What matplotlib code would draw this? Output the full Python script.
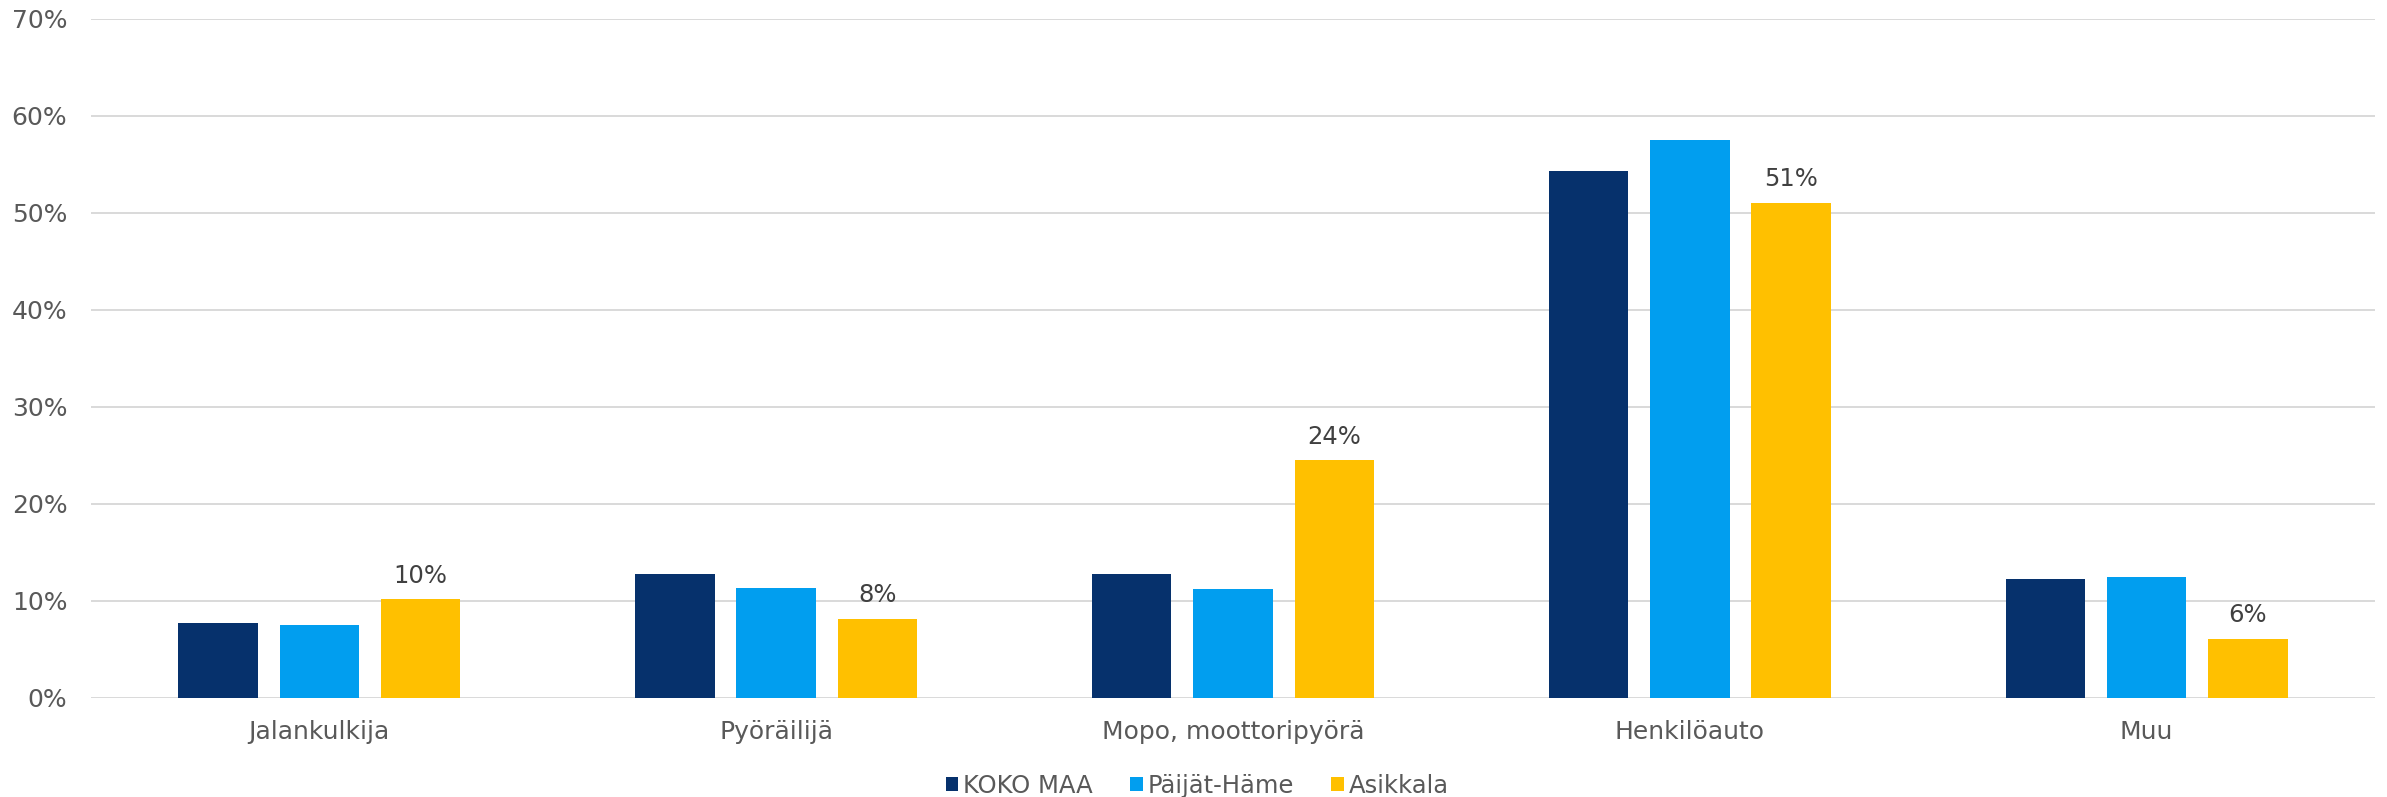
import matplotlib
matplotlib.use("Agg")
import matplotlib.pyplot as plt
import numpy as np
from matplotlib.patches import Patch

categories = ["Jalankulkija", "Pyöräilijä", "Mopo, moottoripyörä", "Henkilöauto", "Muu"]
series_names = ["KOKO MAA", "Päijät-Häme", "Asikkala"]
koko_maa = [0.0765, 0.1273, 0.1273, 0.543, 0.1225]
paijat_hame = [0.0744, 0.1126, 0.1115, 0.575, 0.124]
asikkala = [0.1012, 0.0809, 0.2445, 0.510, 0.0606]
asikkala_labels = ["10%", "8%", "24%", "51%", "6%"]
yticks = [0, 0.1, 0.2, 0.3, 0.4, 0.5, 0.6, 0.7]
ytick_labels = ["0%", "10%", "20%", "30%", "40%", "50%", "60%", "70%"]
colors = ["#06316C", "#019EEF", "#FFC000"]

plt.rcParams['font.family'] = ['DejaVu Sans']
fig = plt.figure(figsize=(23.87, 7.97), dpi=100)
ax = fig.add_axes([0.0381, 0.1248, 0.9569, 0.8517])

x = np.arange(len(categories))
w = 0.174
pitch = 0.2218
for i, (vals, c) in enumerate(zip([koko_maa, paijat_hame, asikkala], colors)):
    bars = ax.bar(x + (i - 1) * pitch, vals, width=w, color=c, zorder=3)
    if i == 2:
        for b, lab in zip(bars, asikkala_labels):
            ax.annotate(lab, (b.get_x() + b.get_width() / 2, b.get_height()),
                        xytext=(0, 8.5), textcoords="offset points",
                        ha="center", va="bottom", fontsize=17.5, color="#404040")

ax.set_xlim(-0.5, len(categories) - 0.5)
ax.set_ylim(0, 0.7)
ax.set_yticks(yticks)
ax.set_yticklabels(ytick_labels, fontsize=18, color="#595959")
ax.set_xticks(x)
ax.set_xticklabels(categories, fontsize=18, color="#595959")
ax.tick_params(axis="both", length=0)
ax.tick_params(axis="y", pad=17)
ax.tick_params(axis="x", pad=16)
ax.grid(axis="y", color="#d9d9d9", linewidth=1.4, zorder=0)
for s in ax.spines.values():
    s.set_visible(False)

handles = [Patch(facecolor=c, label=n) for c, n in zip(colors, series_names)]
fig.legend(handles=handles, loc="center", bbox_to_anchor=(0.5016, 1 - 786 / 797),
           ncol=3, frameon=False, fontsize=17.5, handlelength=0.5, handleheight=0.5,
           handletextpad=0.2, columnspacing=1.55, labelcolor="#595959")

fig.savefig("out.png", dpi=100, facecolor="white")
